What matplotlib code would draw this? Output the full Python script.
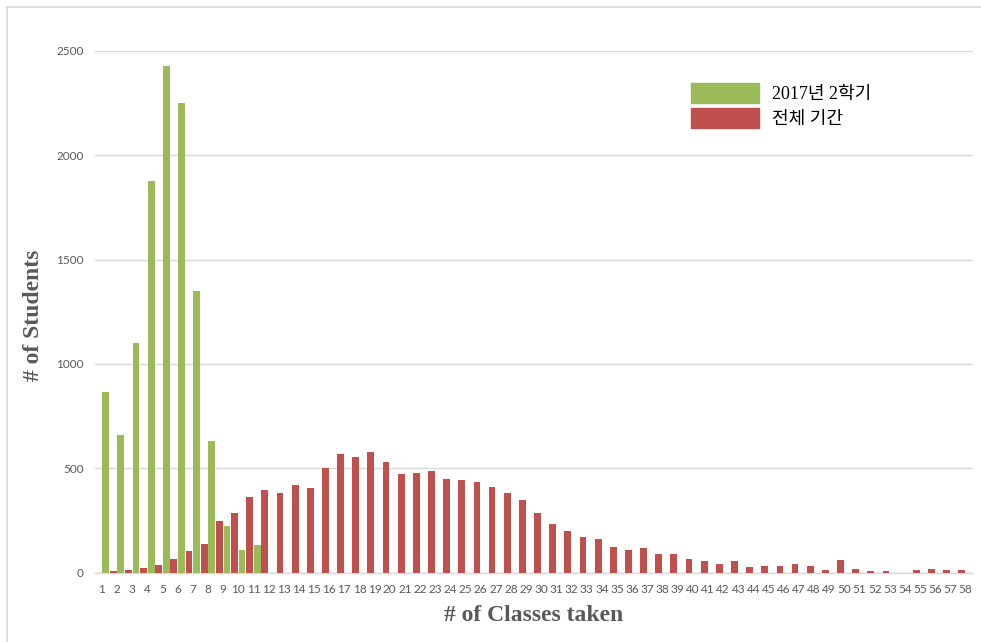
import matplotlib.pyplot as plt
import matplotlib.patches as mpatches
import numpy as np

# number of classes taken (tick labels)
classes = list(range(1, 59))

# 2017 2nd semester
sem_2017 = [865, 659, 1099, 1876, 2427, 2251, 1350, 629, 224, 109, 132]

# whole period
all_period = [5, 13, 22, 35, 64, 102, 139, 245, 285, 360,
              397, 381, 419, 406, 502, 570, 554, 576, 531, 472,
              477, 485, 446, 442, 432, 411, 382, 346, 285, 232,
              200, 171, 163, 123, 106, 120, 91, 91, 64, 53,
              40, 53, 26, 29, 29, 43, 29, 11, 58, 19,
              6, 5, 0, 14, 19, 14, 13]

yticks = [0, 500, 1000, 1500, 2000, 2500]

GREEN = '#9BBB59'
RED = '#C0504D'
GRID = '#D9D9D9'

fig = plt.figure(figsize=(9.81, 6.42), dpi=100)
ax = fig.add_axes([0.0968, 0.1082, 0.895, 0.8124])

# outer chart border
fig.patches.append(mpatches.Rectangle((0.007, -0.01), 1.0, 0.999, transform=fig.transFigure,
                                      fill=False, edgecolor='#D9D9D9', linewidth=1.2))

w = 0.45
x_sem = np.arange(1, len(sem_2017) + 1)
x_all = np.arange(1, len(all_period) + 1)
ax.bar(x_sem - 0.25, sem_2017, width=w, color=GREEN, zorder=3)
ax.bar(x_all + 0.25, all_period, width=w, color=RED, zorder=3)

ax.set_xlim(0.04, 57.99)
ax.set_ylim(0, 2500)
ax.set_yticks(yticks)
ax.set_yticklabels([str(v) for v in yticks])
ax.set_xticks(np.array(classes) - 0.5)
ax.set_xticklabels([str(c) for c in classes])

ax.grid(axis='y', color=GRID, linewidth=1, zorder=0)
for s in ['top', 'right', 'left']:
    ax.spines[s].set_visible(False)
ax.spines['bottom'].set_color(GRID)
ax.spines['bottom'].set_linewidth(1)
ax.tick_params(axis='both', length=0, labelsize=8.5, labelcolor='#595959')
ax.tick_params(axis='x', pad=8)
ax.tick_params(axis='y', pad=8)
for lab in ax.get_xticklabels() + ax.get_yticklabels():
    lab.set_fontfamily('Lato')

ax.set_ylabel('# of Students', fontsize=17, fontweight='bold', family='Liberation Serif',
              color='#595959')
ax.yaxis.set_label_coords(-0.058, 0.494)
ax.set_xlabel('# of Classes taken', fontsize=17, fontweight='bold', family='Liberation Serif',
              color='#595959')
ax.xaxis.set_label_coords(0.5, -0.063)

handles = [mpatches.Patch(color=GREEN, label='2017년 2학기'),
           mpatches.Patch(color=RED, label='전체 기간')]
ax.legend(handles=handles, loc='upper left', bbox_to_anchor=(0.66, 0.97), frameon=False,
          prop={'family': ['Liberation Serif', 'Noto Sans CJK KR'], 'size': 13},
          handlelength=3.8, handleheight=1.3, handletextpad=0.7, labelspacing=0.3)

fig.savefig('out.png', dpi=100)
